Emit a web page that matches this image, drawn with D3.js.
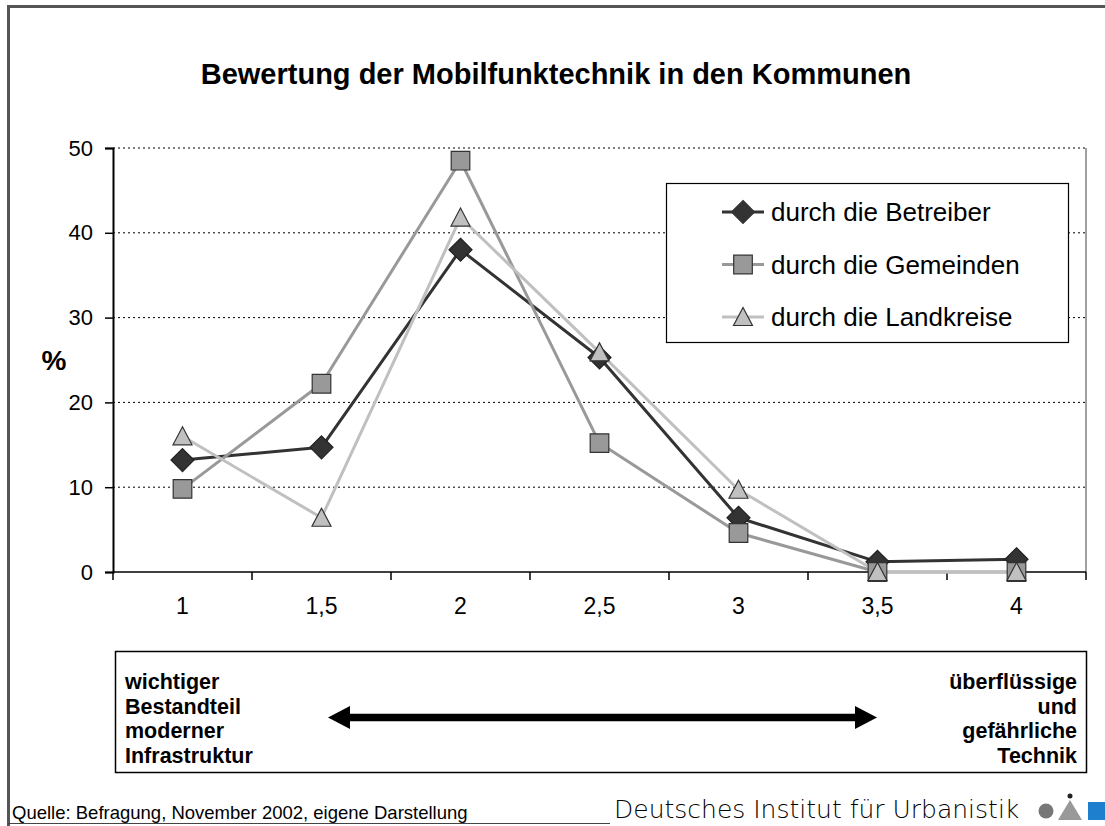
<!DOCTYPE html>
<html>
<head>
<meta charset="utf-8">
<script src="https://cdn.jsdelivr.net/npm/d3@7"></script>
<style>
  html, body { margin: 0; padding: 0; background: #fff; }
  svg { display: block; font-family: "Liberation Sans", Arial, sans-serif; }
</style>
</head>
<body>
<svg id="chart" width="1105" height="826"></svg>
<script>
// Rating scale (1 = important infrastructure ... 4 = superfluous and dangerous)
const categories = ["1", "1,5", "2", "2,5", "3", "3,5", "4"];

// Share of answers in percent
const betreiber  = [13.2, 14.7, 38.0, 25.3, 6.4, 1.2, 1.5];
const gemeinden  = [9.8, 22.2, 48.5, 15.2, 4.6, 0, 0];
const landkreise = [16.0, 6.4, 41.8, 25.9, 9.7, 0, 0];

const seriesNames = ["durch die Betreiber", "durch die Gemeinden", "durch die Landkreise"];
const yTicks = [0, 10, 20, 30, 40, 50];

const series = [
  { name: seriesNames[0], values: betreiber,  line: "#333333", fill: "#333333", marker: "diamond" },
  { name: seriesNames[1], values: gemeinden,  line: "#999999", fill: "#999999", marker: "square" },
  { name: seriesNames[2], values: landkreise, line: "#c0c0c0", fill: "#c0c0c0", marker: "triangle" }
];

const svg = d3.select("#chart");
const plot = { left: 113, right: 1086, top: 148, bottom: 572 };

const x = d3.scaleBand().domain(categories).range([plot.left, plot.right]).padding(0);
const y = d3.scaleLinear().domain([0, 50]).range([plot.bottom, plot.top]);
const cx = c => x(c) + x.bandwidth() / 2;

// outer frame
svg.append("path")
  .attr("d", "M8.5,826 V6.5 H1105")
  .attr("fill", "none").attr("stroke", "#555").attr("stroke-width", 3);

// title
svg.append("text")
  .attr("x", 556).attr("y", 84)
  .attr("text-anchor", "middle")
  .attr("font-weight", "bold").attr("font-size", 29)
  .text("Bewertung der Mobilfunktechnik in den Kommunen");

// dotted gridlines
svg.append("g").selectAll("line")
  .data(yTicks.filter(d => d > 0))
  .join("line")
  .attr("x1", plot.left).attr("x2", plot.right)
  .attr("y1", d => y(d)).attr("y2", d => y(d))
  .attr("stroke", "#000").attr("stroke-width", 1).attr("stroke-dasharray", "2,3");

// right edge of plot area
svg.append("line")
  .attr("x1", plot.right).attr("x2", plot.right)
  .attr("y1", plot.top).attr("y2", plot.bottom)
  .attr("stroke", "#808080").attr("stroke-width", 1.5);

// y axis
const yAxis = d3.axisLeft(y).tickValues(yTicks).tickSize(8).tickPadding(12);
const gy = svg.append("g").attr("transform", `translate(${plot.left},0)`).call(yAxis);
gy.select(".domain").attr("stroke-width", 2);
gy.selectAll(".tick line").attr("stroke-width", 1.5);
gy.selectAll("text").attr("font-size", 22).attr("font-family", "Liberation Sans, Arial, sans-serif").attr("fill", "#000");

svg.append("text")
  .attr("x", 54).attr("y", 370)
  .attr("text-anchor", "middle")
  .attr("font-weight", "bold").attr("font-size", 28)
  .text("%");

// x axis: ticks on category boundaries, labels at category centres
const gx = svg.append("g").attr("transform", `translate(0,${plot.bottom})`);
gx.append("line")
  .attr("x1", plot.left).attr("x2", plot.right)
  .attr("stroke", "#000").attr("stroke-width", 1.5);
const bounds = categories.map(c => x(c)).concat([plot.right]);
gx.selectAll("line.tk").data(bounds).join("line").attr("class", "tk")
  .attr("x1", d => d).attr("x2", d => d).attr("y1", 0).attr("y2", 8)
  .attr("stroke", "#000").attr("stroke-width", 1.5);
gx.selectAll("text").data(categories).join("text")
  .attr("x", d => cx(d)).attr("y", 42)
  .attr("text-anchor", "middle").attr("font-size", 23)
  .text(d => d);

// marker shapes
function markerPath(type) {
  if (type === "diamond") return "M0,-11.5 L11.5,0 L0,11.5 L-11.5,0 Z";
  if (type === "square") return "M-9.3,-9.3 H9.3 V9.3 H-9.3 Z";
  return "M0,-9.5 L9.5,8.5 L-9.5,8.5 Z";
}

const line = d3.line().x((d, i) => cx(categories[i])).y(d => y(d));

series.forEach(s => {
  svg.append("path")
    .datum(s.values)
    .attr("d", line)
    .attr("fill", "none").attr("stroke", s.line).attr("stroke-width", 3)
    .attr("stroke-linejoin", "round");
});
series.forEach(s => {
  svg.append("g").selectAll("path")
    .data(s.values)
    .join("path")
    .attr("transform", (d, i) => `translate(${cx(categories[i])},${y(d)})`)
    .attr("d", markerPath(s.marker))
    .attr("fill", s.fill)
    .attr("stroke", s.marker === "diamond" ? "#222" : "#333")
    .attr("stroke-width", 1.2);
});

// legend
const lg = svg.append("g");
lg.append("rect")
  .attr("x", 666.5).attr("y", 183.5).attr("width", 402).attr("height", 159)
  .attr("fill", "#fff").attr("stroke", "#000").attr("stroke-width", 1.2);
series.forEach((s, i) => {
  const ly = 212 + i * 52.5;
  const row = lg.append("g");
  row.append("line")
    .attr("x1", 722).attr("x2", 764).attr("y1", ly).attr("y2", ly)
    .attr("stroke", s.line).attr("stroke-width", 3);
  row.append("path")
    .attr("transform", `translate(743,${ly})`)
    .attr("d", markerPath(s.marker))
    .attr("fill", s.fill).attr("stroke", "#333").attr("stroke-width", 1.2);
  row.append("text")
    .attr("x", 771).attr("y", ly + 9)
    .attr("font-size", 26)
    .text(s.name);
});

// scale explanation box
svg.append("rect")
  .attr("x", 115.5).attr("y", 651.5).attr("width", 971).attr("height", 121)
  .attr("fill", "none").attr("stroke", "#000").attr("stroke-width", 1.5);

const leftText = ["wichtiger", "Bestandteil", "moderner", "Infrastruktur"];
const rightText = ["überflüssige", "und", "gefährliche", "Technik"];
svg.append("g").selectAll("text").data(leftText).join("text")
  .attr("x", 125).attr("y", (d, i) => 689 + i * 24.5)
  .attr("font-weight", "bold").attr("font-size", 21.5)
  .text(d => d);
svg.append("g").selectAll("text").data(rightText).join("text")
  .attr("x", 1077).attr("y", (d, i) => 689 + i * 24.5)
  .attr("text-anchor", "end")
  .attr("font-weight", "bold").attr("font-size", 21.5)
  .text(d => d);

// double-headed arrow
svg.append("line")
  .attr("x1", 345).attr("x2", 860).attr("y1", 717.5).attr("y2", 717.5)
  .attr("stroke", "#000").attr("stroke-width", 7.5);
svg.append("path").attr("d", "M328,717.5 L350,706 L350,729 Z").attr("fill", "#000");
svg.append("path").attr("d", "M877,717.5 L855,706 L855,729 Z").attr("fill", "#000");

// footer
svg.append("text")
  .attr("x", 12).attr("y", 819)
  .attr("font-size", 18.5)
  .text("Quelle: Befragung, November 2002, eigene Darstellung");
svg.append("line")
  .attr("x1", 8).attr("x2", 610).attr("y1", 823.5).attr("y2", 823.5)
  .attr("stroke", "#444").attr("stroke-width", 1);
svg.append("text")
  .attr("x", 614).attr("y", 818)
  .attr("font-family", "DejaVu Sans, sans-serif").attr("font-weight", 200)
  .attr("font-size", 25)
  .text("Deutsches Institut für Urbanistik");

// institute logo mark
const logo = svg.append("g");
logo.append("circle").attr("cx", 1046).attr("cy", 811).attr("r", 7.5).attr("fill", "#777");
logo.append("path").attr("d", "M1058,820 L1070,800 L1082,820 Z").attr("fill", "#999");
logo.append("circle").attr("cx", 1070).attr("cy", 796).attr("r", 2.5).attr("fill", "#222");
logo.append("rect").attr("x", 1088).attr("y", 802).attr("width", 17).attr("height", 18).attr("fill", "#1e7fcf");
</script>
</body>
</html>
